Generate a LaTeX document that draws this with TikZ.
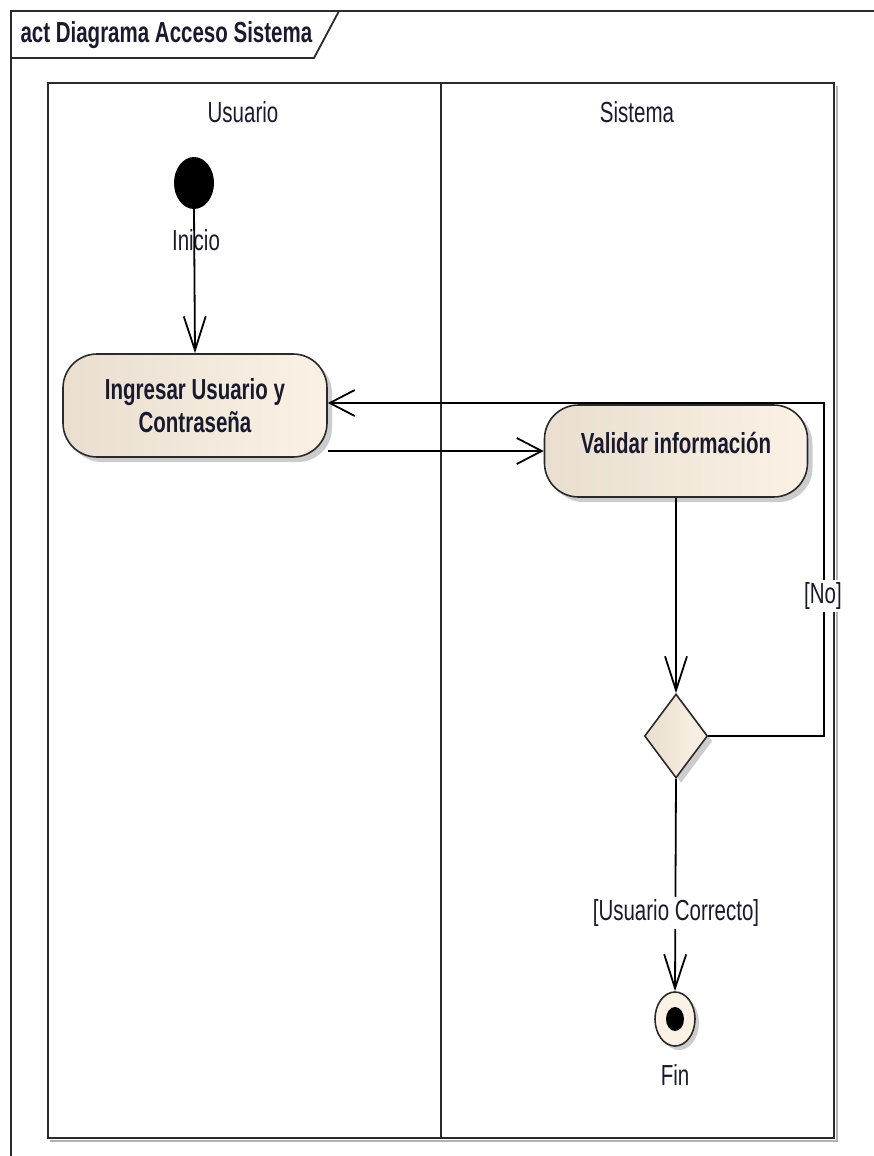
\documentclass[tikz,border=0pt]{standalone}
\usepackage{fontspec}
\setmainfont[FakeStretch=0.707]{Liberation Sans}
\usetikzlibrary{arrows.meta,shapes.geometric,shadows}
\definecolor{ink}{HTML}{1A1A2E}
\definecolor{beigeL}{HTML}{E9DED0}
\definecolor{beigeR}{HTML}{FBF2E5}
\definecolor{edge}{HTML}{2A2A2A}
\tikzset{
  every node/.style={font=\fontsize{29}{33}\selectfont, text=ink},
  frameline/.style={draw=edge, line width=1.8pt},
  lane/.style={draw=edge, line width=1.8pt},
  action/.style={rectangle, rounded corners=34pt, draw=edge, line width=1.6pt,
    left color=beigeL, right color=beigeR, inner sep=0pt,
    drop shadow={shadow xshift=5pt, shadow yshift=-5pt, opacity=0.4, fill=gray}},
  decision/.style={diamond, draw=edge, line width=1.6pt, inner sep=0pt,
    minimum width=63pt, minimum height=84pt, left color=beigeL, right color=beigeR,
    drop shadow={shadow xshift=5pt, shadow yshift=-5pt, opacity=0.4, fill=gray}},
  initnode/.style={ellipse, fill=black, inner sep=0pt, minimum width=40pt, minimum height=52pt},
  finnode/.style={ellipse, draw=edge, line width=1.6pt, fill=beigeR, inner sep=0pt,
    minimum width=40pt, minimum height=54pt,
    drop shadow={shadow xshift=4pt, shadow yshift=-4pt, opacity=0.4, fill=gray}},
  findot/.style={ellipse, fill=black, inner sep=0pt, minimum width=18pt, minimum height=24pt},
  flow/.style={draw=black, line width=1.8pt},
  varrow/.style={flow, -{Straight Barb[length=34pt,width=22pt,line width=1.8pt]}},
  harrow/.style={flow, -{Straight Barb[length=25pt,width=26pt,line width=1.8pt]}},
  guard/.style={fill=white, inner sep=2pt},
}
\begin{document}
\begin{tikzpicture}[x=1pt, y=-1pt]
\useasboundingbox (0,0) rectangle (873,1156);

% diagram frame and its name tab
\draw[frameline] (11,1160) -- (11,11) -- (880,11);
\draw[frameline] (11,58) -- (314,58) -- (339,11);
\node[anchor=west, font=\fontsize{29}{33}\selectfont\bfseries] (title) at (17,35) {act Diagrama Acceso Sistema};

% swimlanes
\draw[gray!60, line width=1.4pt] (50,1141) -- (837,1141) -- (837,86);
\draw[lane] (48,83) rectangle (834,1138);
\draw[lane] (441,83) -- (441,1138);
\node (laneU) at (243,112) {Usuario};
\node (laneS) at (637,112) {Sistema};

% nodes
\node[initnode] (ini) at (194,183) {};
\node (iniLbl) at (196,240) {Inicio};

\node[action, minimum width=264pt, minimum height=103pt, align=center,
      font=\fontsize{29}{33}\selectfont\bfseries] (act1) at (195,405.5)
      {Ingresar Usuario y\\Contraseña};

\node[action, minimum width=263pt, minimum height=92pt] (act2) at (676,451) {};
\node[font=\fontsize{29}{33}\selectfont\bfseries] (act2Lbl) at (676,443) {Validar información};

\node[decision] (dec) at (676,736) {};

\node[finnode] (fin) at (675,1019) {};
\node[findot] (finIn) at (fin.center) {};
\node (finLbl) at (675,1075) {Fin};

% flows
\draw[varrow] (ini.south) -- (act1.north);
\draw[harrow] (act1.east |- act2.west) -- (act2.west);
\draw[varrow] (act2.south) -- (dec.north);
\coordinate (back) at (824,403);
\draw[harrow] (dec.east) -| (back) -- (act1.east |- back);
\draw[varrow] (dec.south) -- (fin.north);

% guards
\node[guard] (gNo) at (823,596) {[No]};
\node[guard] (gOk) at (676,913) {[Usuario Correcto]};
\end{tikzpicture}
\end{document}
